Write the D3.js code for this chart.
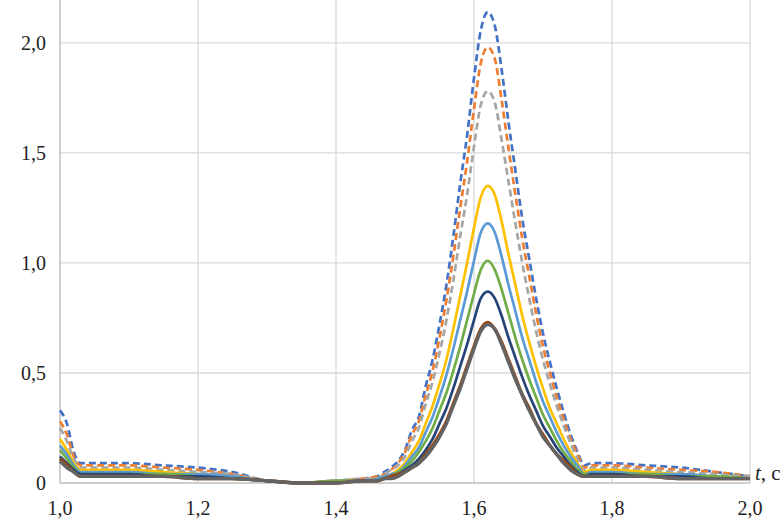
<!DOCTYPE html>
<html>
<head>
<meta charset="utf-8">
<script src="https://cdnjs.cloudflare.com/ajax/libs/d3/7.8.5/d3.min.js"></script>
<style>
  body { margin: 0; background: #fff; }
  svg text { font-family: "Liberation Serif", "DejaVu Serif", "Times New Roman", Times, serif; fill: #222; }
</style>
</head>
<body>
<div class="graphic"></div>
<script>
// time points (s)
var times = [1.00,1.01,1.02,1.03,1.05,1.10,1.15,1.20,1.25,1.30,1.35,1.40,1.44,
  1.46,1.47,1.48,1.49,1.50,1.51,1.52,1.53,1.54,1.55,1.56,1.57,1.58,1.59,1.60,
  1.61,1.62,1.63,1.64,1.65,1.66,1.67,1.68,1.69,1.70,1.71,1.72,1.73,1.74,1.75,1.76,
  1.77,1.78,1.80,1.85,1.90,1.95,2.00];

// series values
var s1 = [0.33,0.27,0.14,0.09,0.09,0.09,0.08,0.07,0.05,0.01,0.00,0.01,0.02,
  0.03,0.05,0.07,0.10,0.15,0.24,0.30,0.44,0.56,0.72,0.90,1.12,1.36,1.58,1.84,
  2.06,2.14,2.08,1.88,1.64,1.42,1.20,1.02,0.84,0.68,0.55,0.43,0.32,0.22,0.14,0.08,
  0.09,0.09,0.09,0.08,0.07,0.05,0.03];
var s2 = [0.28,0.22,0.12,0.08,0.08,0.08,0.07,0.06,0.04,0.01,0.00,0.01,0.02,
  0.03,0.04,0.06,0.09,0.14,0.22,0.28,0.40,0.51,0.66,0.83,1.03,1.25,1.46,1.70,
  1.91,1.98,1.93,1.74,1.52,1.31,1.11,0.94,0.77,0.62,0.50,0.39,0.29,0.20,0.13,0.07,
  0.08,0.08,0.08,0.07,0.06,0.05,0.03];
var s3 = [0.25,0.19,0.11,0.07,0.07,0.07,0.06,0.05,0.04,0.01,0.00,0.01,0.02,
  0.02,0.04,0.06,0.08,0.12,0.19,0.25,0.36,0.46,0.59,0.74,0.92,1.12,1.31,1.53,
  1.72,1.78,1.73,1.56,1.37,1.18,1.00,0.84,0.69,0.56,0.45,0.35,0.26,0.18,0.11,0.06,
  0.07,0.07,0.07,0.06,0.05,0.04,0.03];
var s4 = [0.20,0.15,0.09,0.06,0.06,0.06,0.05,0.04,0.03,0.01,0.00,0.01,0.01,
  0.02,0.03,0.04,0.06,0.09,0.14,0.19,0.27,0.35,0.45,0.56,0.70,0.85,1.00,1.16,
  1.30,1.35,1.31,1.19,1.04,0.90,0.76,0.64,0.53,0.43,0.34,0.27,0.20,0.14,0.09,0.05,
  0.06,0.06,0.06,0.05,0.04,0.03,0.02];
var s5 = [0.17,0.13,0.08,0.05,0.05,0.05,0.04,0.04,0.03,0.01,0.00,0.01,0.01,
  0.02,0.03,0.04,0.05,0.08,0.12,0.16,0.23,0.30,0.39,0.49,0.61,0.74,0.87,1.01,
  1.14,1.18,1.14,1.03,0.90,0.78,0.66,0.56,0.46,0.37,0.30,0.23,0.17,0.12,0.08,0.04,
  0.05,0.05,0.05,0.04,0.04,0.03,0.02];
var s6 = [0.15,0.11,0.07,0.04,0.04,0.04,0.04,0.03,0.02,0.01,0.00,0.01,0.01,
  0.01,0.02,0.03,0.05,0.07,0.10,0.14,0.19,0.25,0.33,0.41,0.51,0.62,0.74,0.86,
  0.97,1.01,0.97,0.88,0.77,0.66,0.56,0.47,0.39,0.31,0.25,0.19,0.14,0.10,0.06,0.04,
  0.04,0.04,0.04,0.04,0.03,0.03,0.02];
var s7 = [0.12,0.09,0.06,0.04,0.04,0.04,0.03,0.03,0.02,0.01,0.00,0.00,0.01,
  0.01,0.02,0.03,0.04,0.06,0.08,0.11,0.15,0.20,0.27,0.34,0.43,0.53,0.63,0.74,
  0.84,0.87,0.84,0.76,0.66,0.57,0.48,0.40,0.33,0.26,0.21,0.16,0.12,0.08,0.05,0.03,
  0.04,0.04,0.04,0.03,0.03,0.02,0.02];
var s8 = [0.11,0.08,0.05,0.03,0.03,0.03,0.03,0.02,0.02,0.01,0.00,0.00,0.01,
  0.01,0.02,0.03,0.04,0.05,0.07,0.09,0.13,0.17,0.22,0.28,0.36,0.44,0.53,0.62,
  0.70,0.73,0.70,0.64,0.56,0.48,0.40,0.34,0.27,0.22,0.17,0.13,0.10,0.07,0.04,0.03,
  0.03,0.03,0.03,0.03,0.02,0.02,0.02];
var s9 = [0.10,0.07,0.05,0.03,0.03,0.03,0.03,0.02,0.02,0.01,0.00,0.00,0.01,
  0.01,0.02,0.02,0.03,0.05,0.07,0.09,0.12,0.16,0.21,0.27,0.35,0.43,0.52,0.61,
  0.69,0.72,0.70,0.63,0.55,0.47,0.40,0.33,0.27,0.21,0.17,0.13,0.09,0.06,0.04,0.03,
  0.03,0.03,0.03,0.03,0.02,0.02,0.02];

var seriesList = [s1, s2, s3, s4, s5, s6, s7, s8, s9];
var colors = ["#4472C4","#ED7D31","#A5A5A5","#FFC000","#5B9BD5","#70AD47","#264478","#9E480E","#636363"];
var dashed = [true, true, true, false, false, false, false, false, false];

var xTicks = [1.0, 1.2, 1.4, 1.6, 1.8, 2.0];
var yTicks = [0, 0.5, 1.0, 1.5, 2.0];

var W = 782, H = 524;
var margin = {top: 0, right: 32, bottom: 41, left: 60},
    width = W - margin.left - margin.right,
    height = H - margin.top - margin.bottom;

var svg = d3.select(".graphic").append("svg")
    .attr("width", W)
    .attr("height", H)
  .append("g")
    .attr("transform", "translate(" + margin.left + "," + margin.top + ")");

var x = d3.scaleLinear().domain([1.0, 2.0]).range([0, width]);
var y = d3.scaleLinear().domain([0, 2.195]).range([height, 0]);

var fmt = function(d) { return d === 0 ? "0" : d3.format(".1f")(d).replace(".", ","); };

// grid
svg.selectAll(".hgrid").data(yTicks.filter(d => d > 0)).enter().append("line")
    .attr("x1", 0).attr("x2", width)
    .attr("y1", d => y(d)).attr("y2", d => y(d))
    .attr("stroke", "#d9d9d9").attr("stroke-width", 1.3);
svg.selectAll(".vgrid").data(xTicks.filter(d => d > 1.0)).enter().append("line")
    .attr("x1", d => x(d)).attr("x2", d => x(d))
    .attr("y1", 0).attr("y2", height)
    .attr("stroke", "#d9d9d9").attr("stroke-width", 1.3);

// axes lines
svg.append("line").attr("x1", 0).attr("x2", 0).attr("y1", 0).attr("y2", height)
    .attr("stroke", "#bfbfbf").attr("stroke-width", 1.5);
svg.append("line").attr("x1", 0).attr("x2", width).attr("y1", height).attr("y2", height)
    .attr("stroke", "#bfbfbf").attr("stroke-width", 1.5);

// tick labels
svg.selectAll(".ylbl").data(yTicks).enter().append("text")
    .attr("font-size", 20)
    .attr("x", -14).attr("y", d => y(d))
    .attr("dy", "0.35em")
    .attr("text-anchor", "end")
    .text(fmt);
svg.selectAll(".xlbl").data(xTicks).enter().append("text")
    .attr("font-size", 20)
    .attr("x", d => x(d)).attr("y", height + 25)
    .attr("dy", "0.35em")
    .attr("text-anchor", "middle")
    .text(fmt);

// axis title
var tl = svg.append("text")
    .attr("font-size", 21)
    .attr("x", width + 5).attr("y", height - 3);
tl.append("tspan").attr("font-style", "italic").text("t");
tl.append("tspan").text(", c");

// lines
var line = d3.line()
    .x((d, i) => x(times[i]))
    .y(d => y(d))
    .curve(d3.curveMonotoneX);

seriesList.forEach(function(s, k) {
  svg.append("path")
      .datum(s)
      .attr("fill", "none")
      .attr("stroke", colors[k])
      .attr("stroke-width", k >= 7 ? 3.4 : 2.7)
      .attr("stroke-dasharray", dashed[k] ? "7,4" : null)
      .attr("stroke-linejoin", "round")
      .attr("d", line);
});
</script>
</body>
</html>
